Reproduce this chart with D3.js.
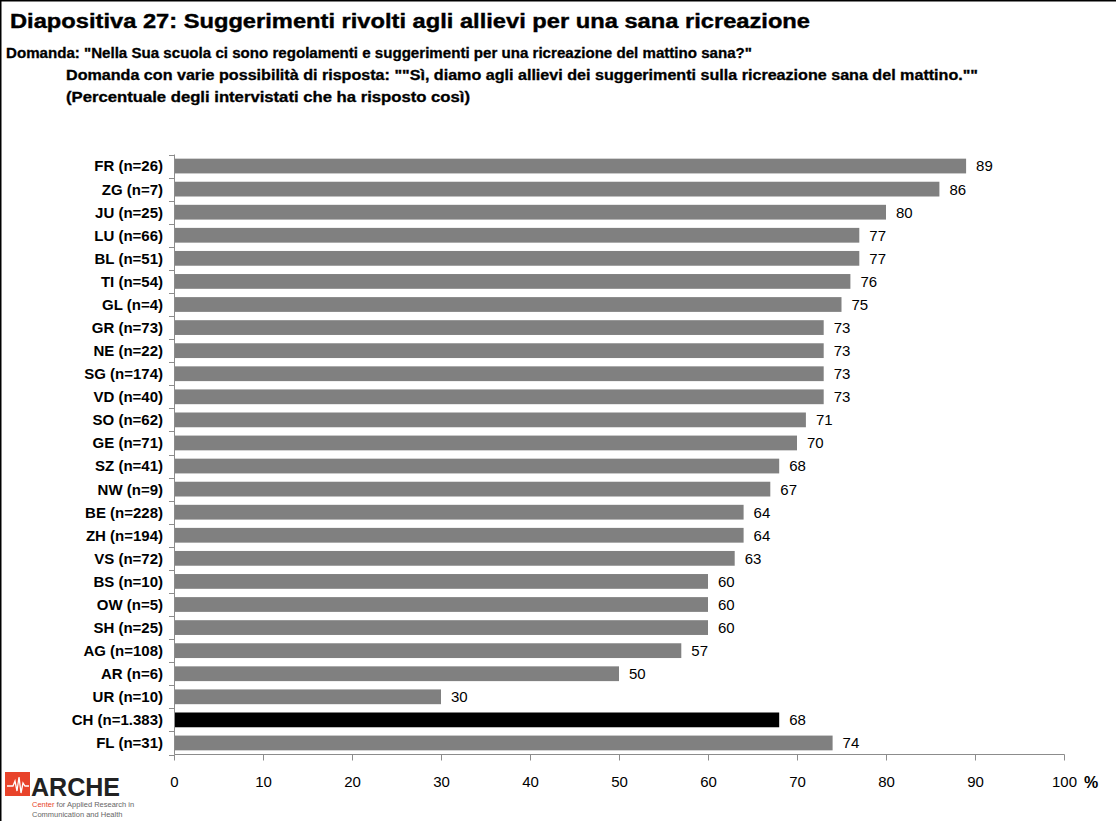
<!DOCTYPE html>
<html><head><meta charset="utf-8">
<script src="https://cdn.jsdelivr.net/npm/d3@7"></script>
<style>body{margin:0;background:#fff}svg{display:block;font-family:"Liberation Sans",Arial,sans-serif}</style>
</head><body>
<script>
const categories = ["FR (n=26)","ZG (n=7)","JU (n=25)","LU (n=66)","BL (n=51)","TI (n=54)","GL (n=4)","GR (n=73)","NE (n=22)","SG (n=174)","VD (n=40)","SO (n=62)","GE (n=71)","SZ (n=41)","NW (n=9)","BE (n=228)","ZH (n=194)","VS (n=72)","BS (n=10)","OW (n=5)","SH (n=25)","AG (n=108)","AR (n=6)","UR (n=10)","CH (n=1.383)","FL (n=31)"];
const values = [89,86,80,77,77,76,75,73,73,73,73,71,70,68,67,64,64,63,60,60,60,57,50,30,68,74];
const highlight = ["CH (n=1.383)"];
const xTicks = [0,10,20,30,40,50,60,70,80,90,100];

const W=1116,H=821;
const svg=d3.select("body").append("svg").attr("width",W).attr("height",H);
svg.append("rect").attr("width",W).attr("height",H).attr("fill","#fff");
// frame
svg.append("line").attr("x1",0.5).attr("x2",0.5).attr("y1",0).attr("y2",H).attr("stroke","#000").attr("stroke-width",2);
svg.append("line").attr("x1",0).attr("x2",W).attr("y1",0.5).attr("y2",0.5).attr("stroke","#000").attr("stroke-width",2);

// titles
svg.append("text").attr("x",10).attr("y",28).attr("font-size",20).attr("font-weight","bold")
  .attr("stroke","#000").attr("stroke-width",0.4)
  .attr("textLength",800).attr("lengthAdjust","spacingAndGlyphs")
  .text("Diapositiva 27: Suggerimenti rivolti agli allievi per una sana ricreazione");
const sub=[
  {x:6,y:58,w:746,t:"Domanda: \"Nella Sua scuola ci sono regolamenti e suggerimenti per una ricreazione del mattino sana?\""},
  {x:66,y:80,w:912,t:"Domanda con varie possibilità di risposta: \"\"Sì, diamo agli allievi dei suggerimenti sulla ricreazione sana del mattino.\"\""},
  {x:66,y:102,w:404,t:"(Percentuale degli intervistati che ha risposto così)"}
];
svg.selectAll("text.sub").data(sub).join("text").attr("class","sub")
  .attr("x",d=>d.x).attr("y",d=>d.y).attr("font-size",14).attr("font-weight","bold")
  .attr("stroke","#000").attr("stroke-width",0.3)
  .attr("textLength",d=>d.w).attr("lengthAdjust","spacingAndGlyphs").text(d=>d.t);

const x=d3.scaleLinear().domain([0,100]).range([174,1064]);
const y=d3.scaleBand().domain(categories).range([154.5,754.5]).paddingInner(0.36).paddingOuter(0.18);

// bars
svg.selectAll("rect.bar").data(categories).join("rect").attr("class","bar")
  .attr("x",x(0)).attr("y",d=>y(d)).attr("height",y.bandwidth())
  .attr("width",(d,i)=>x(values[i])-x(0))
  .attr("fill",d=>highlight.includes(d)?"#000":"#808080");
// value labels
svg.selectAll("text.val").data(categories).join("text").attr("class","val")
  .attr("x",(d,i)=>x(values[i])+10).attr("y",d=>y(d)+y.bandwidth()/2).attr("dy","0.36em")
  .attr("font-size",15).attr("fill","#000").text((d,i)=>values[i]);

// y axis
const axisCol="#8c8c8c";
svg.append("line").attr("x1",174.5).attr("x2",174.5).attr("y1",154.5).attr("y2",754.5).attr("stroke",axisCol);
const bounds=d3.range(categories.length+1).map(i=>154.5+i*(600/categories.length));
svg.selectAll("line.yt").data(bounds).join("line").attr("class","yt")
  .attr("x1",169).attr("x2",174.5).attr("y1",d=>Math.round(d)+0.5).attr("y2",d=>Math.round(d)+0.5).attr("stroke",axisCol);
svg.selectAll("text.cat").data(categories).join("text").attr("class","cat")
  .attr("x",163).attr("y",d=>y(d)+y.bandwidth()/2).attr("dy","0.36em").attr("text-anchor","end")
  .attr("font-size",15).attr("font-weight","bold").text(d=>d);

// x axis
const gx=svg.append("g").attr("transform","translate(0,754.5)")
  .call(d3.axisBottom(x).tickValues(xTicks).tickSize(6).tickPadding(16).tickFormat(d3.format("d")));
gx.select(".domain").attr("stroke",axisCol).attr("d","M174.5,0H1064.5");
gx.selectAll(".tick line").attr("stroke",axisCol).attr("y1",0).attr("y2",6);
gx.selectAll(".tick text").attr("font-size",15).attr("fill","#000").attr("font-family","Liberation Sans, Arial, sans-serif");
svg.append("text").attr("x",1084).attr("y",788).attr("font-size",16).attr("font-weight","bold").text("%");

// logo
const lg=svg.append("g");
lg.append("rect").attr("x",5).attr("y",772).attr("width",25).attr("height",24).attr("fill","#e8432a");
lg.append("path").attr("d","M7,786 L13,786 L15,781 L17,791 L19,777 L21,793 L23,783 L25,786 L29,786")
  .attr("fill","none").attr("stroke","#fff").attr("stroke-width",1.3);
lg.append("text").attr("x",31).attr("y",796).attr("font-size",26).attr("font-weight","bold")
  .attr("textLength",89).attr("lengthAdjust","spacingAndGlyphs").attr("fill","#222").text("ARCHE");
const l2=lg.append("text").attr("x",32).attr("y",807).attr("font-size",7.5);
l2.append("tspan").attr("fill","#e8432a").text("Center ");
l2.append("tspan").attr("fill","#666").text("for Applied Research in");
lg.append("text").attr("x",32).attr("y",817).attr("font-size",7.5).attr("fill","#666").text("Communication and Health");
</script>
</body></html>
